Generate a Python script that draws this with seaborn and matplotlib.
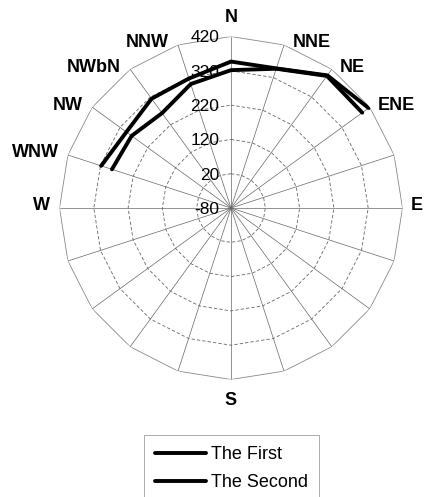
'''
Radar chart of two series over a 20-spoke compass, Excel style.
'''

# imports
import numpy as np
import pandas as pd
import seaborn as sns
import matplotlib.pyplot as plt
from matplotlib.lines import Line2D

# data
directions = ['N', 'NNE', 'NE', 'ENE', '', 'E', '', '', '', '',
              'S', '', '', '', '', 'W', 'WNW', 'NW', 'NWbN', 'NNW']
series_dirs = ['WNW', 'NW', 'NWbN', 'NNW', 'N', 'NNE', 'NE', 'ENE']
first = [318, 297, 314, 317, 347, 348, 398, 416]
second = [285, 278, 262, 300, 322, 347, 396, 393]
ring_ticks = [-80, 20, 120, 220, 320, 420]
series_names = ['The First', 'The Second']

# setup
sns.set_theme(style='white')
plt.rcParams['font.family'] = ['Liberation Sans', 'DejaVu Sans']
plt.rcParams['text.color'] = 'black'
text_dct = {'dir': 13, 'ring': 12.5, 'legend': 13}

step = 360 / len(directions)
angle_of = {d: i * step for i, d in enumerate(directions) if d}

def to_theta(d):
    a = angle_of[d]
    if a > 180:
        a -= 360
    return np.deg2rad(a)

df = pd.DataFrame({
    'theta': [to_theta(d) for d in series_dirs] * 2,
    'value': first + second,
    'series': [series_names[0]] * len(first) + [series_names[1]] * len(second)})

fig = plt.figure(figsize=(4.24, 4.97), dpi=100)
ax = fig.add_axes([0.1403, 0.2364, 0.809, 0.6901], projection='polar')
ax.set_theta_zero_location('N')
ax.set_theta_direction(-1)

# polygon grid
all_theta = np.deg2rad(np.arange(len(directions) + 1) * step)
for r in ring_ticks[1:]:
    if r == ring_ticks[-1]:
        ax.plot(all_theta, [r] * len(all_theta), color='#888888', lw=0.6, zorder=1)
    else:
        ax.plot(all_theta, [r] * len(all_theta), color='#666666', lw=0.6,
                ls=(0, (4, 2.5)), zorder=1)
for t in all_theta[:-1]:
    ax.plot([t, t], [ring_ticks[0], ring_ticks[-1]], color='#666666', lw=0.5, zorder=1)

# data
sns.lineplot(data=df, x='theta', y='value', hue='series',
             palette=['black', 'black'], sort=False, lw=2.8,
             legend=False, ax=ax, zorder=3)

ax.set_ylim(ring_ticks[0], ring_ticks[-1])
ax.grid(False)
ax.spines['polar'].set_visible(False)
ax.set_xticks([])
ax.set_yticks([])
ax.set_xlabel('')
ax.set_ylabel('')

# ring labels along the N spoke
for r in ring_ticks:
    ax.annotate(str(r), xy=(0, r), xytext=(-8.5, -1), textcoords='offset points',
                ha='right', va='center', fontsize=text_dct['ring'], zorder=2)

# direction labels
for d, a in angle_of.items():
    t = np.deg2rad(a)
    if a == 0:
        off, ha = (0, 14), 'center'
    elif a == 180:
        off, ha = (0, -15), 'center'
    elif a < 180:
        off, ha = (6, 1.5), 'left'
    else:
        off, ha = (-6.5, 1.5), 'right'
    ax.annotate(d, xy=(t, ring_ticks[-1]), xytext=off, textcoords='offset points',
                ha=ha, va='center', fontsize=text_dct['dir'], fontweight='bold',
                annotation_clip=False)

# legend
lines = [Line2D([0], [0], color='black', lw=2.8),
         Line2D([0], [0], color='black', lw=2.8)]
leg = fig.legend(lines, series_names, loc='upper center',
                 bbox_to_anchor=(0.546, 1 - 435 / 497),
                 prop={'size': text_dct['legend']}, frameon=True, fancybox=False,
                 handlelength=2.8, handletextpad=0.3, borderpad=0.6,
                 labelspacing=0.64, borderaxespad=0)
leg.get_frame().set_edgecolor('#888888')
leg.get_frame().set_linewidth(0.6)

plt.savefig('out.png', dpi=100)
